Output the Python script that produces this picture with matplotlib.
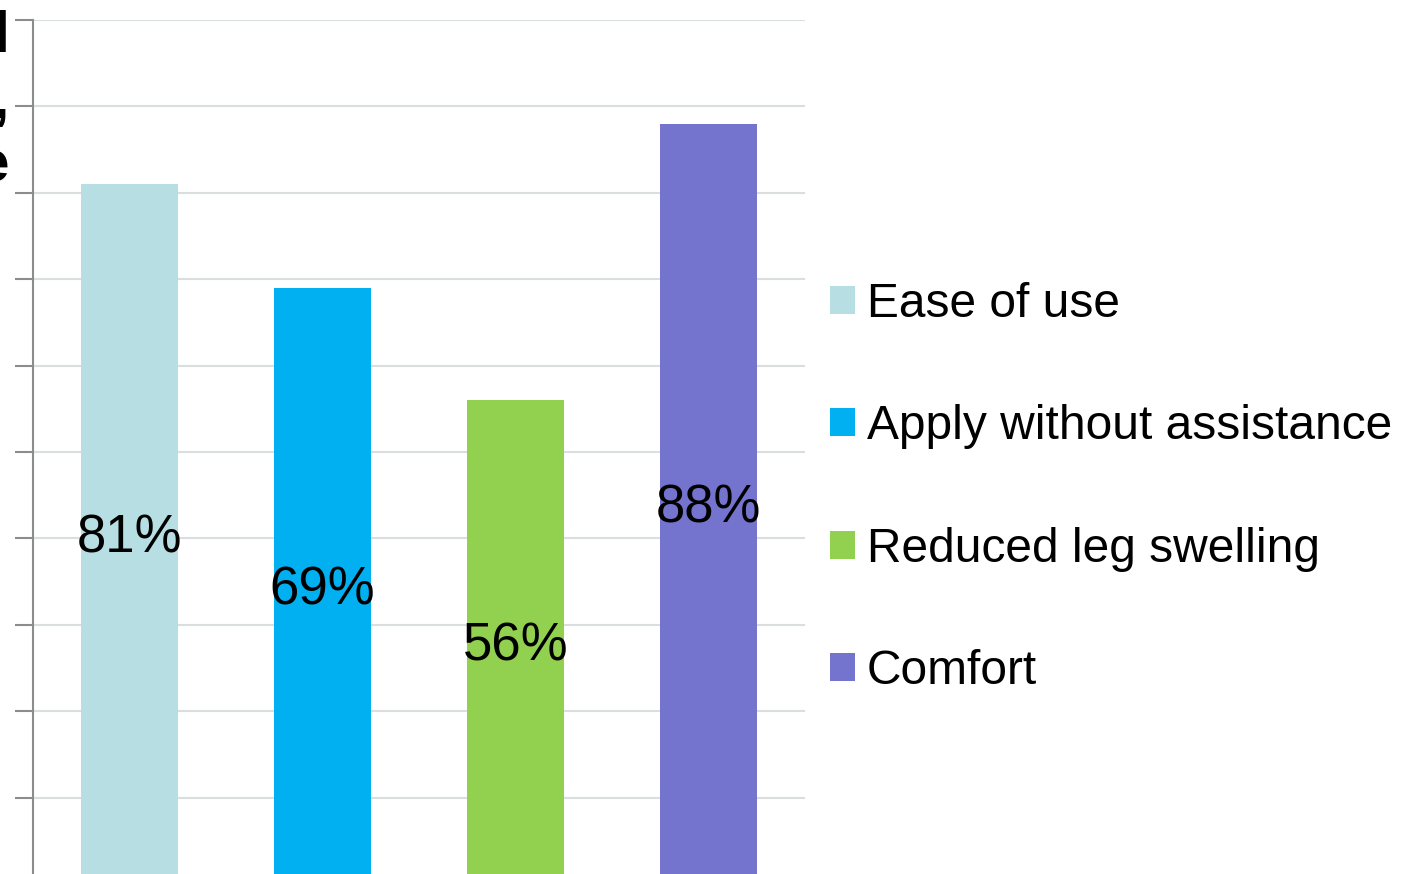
import matplotlib
matplotlib.use("Agg")
import matplotlib.pyplot as plt
from matplotlib.patches import Patch

plt.rcParams['font.family'] = ['Liberation Sans', 'DejaVu Sans']

categories = ["Ease of use", "Apply without assistance", "Reduced leg swelling", "Comfort"]
values = [81, 69, 56, 88]
value_labels = ["81%", "69%", "56%", "88%"]
colors = ["#B7DEE3", "#00B0F0", "#92D050", "#7473CD"]
yticks = [0, 10, 20, 30, 40, 50, 60, 70, 80, 90, 100]
# leftover pieces of the (cropped) axis title at the left edge
title_bits = ["d", ",", "e"]

W, H = 1423, 874
fig = plt.figure(figsize=(W / 100, H / 100), dpi=100)
ax = fig.add_axes([33 / W, -10 / H, 772 / W, 864 / H])

xs = range(len(values))
ax.bar(xs, values, width=0.5, color=colors, zorder=2)
for x, v, lab in zip(xs, values, value_labels):
    ax.annotate(lab, (x, v / 2), xytext=(0, -3), textcoords='offset points',
                ha='center', va='center', fontsize=38, color='black', zorder=3)

ax.set_xlim(-0.5, len(values) - 0.5)
ax.set_ylim(0, 100)
ax.set_yticks(yticks)
ax.set_yticklabels([])
ax.set_xticks([])
ax.yaxis.grid(True, color='#D9DFDF', linewidth=1.5, zorder=0)
ax.tick_params(axis='y', direction='out', length=13, width=1.5, color='#8C8C8C')
for s in ['top', 'right', 'bottom']:
    ax.spines[s].set_visible(False)
ax.spines['left'].set_color('#8C8C8C')
ax.spines['left'].set_linewidth(1.5)

handles = [Patch(facecolor=c, edgecolor='none') for c in colors]
fig.legend(handles, categories, loc='center left',
           bbox_to_anchor=(830 / W, 1 - 488 / H), frameon=False,
           fontsize=34.5, handlelength=0.52, handleheight=0.52,
           handletextpad=0.25, labelspacing=1.61, borderpad=0, borderaxespad=0)

ys = [52, 118, 182]
for t, y in zip(title_bits, ys):
    fig.text(9 / W, 1 - y / H, t, ha='right', va='baseline', fontsize=42,
             fontweight='bold', color='black')

fig.savefig("out.png", dpi=100)
